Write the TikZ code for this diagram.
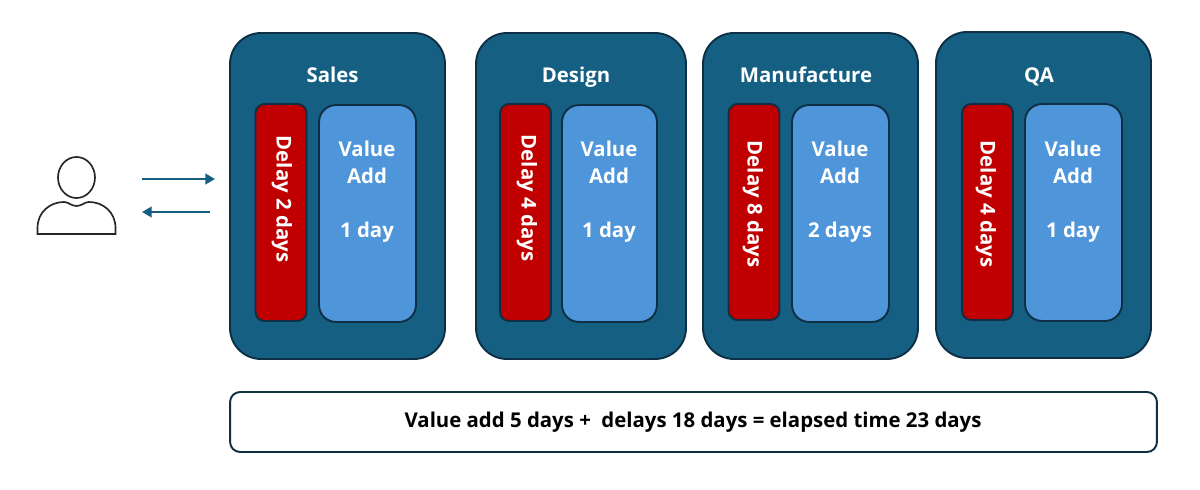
\documentclass[tikz,border=0pt]{standalone}
\usepackage{fontspec}
\setmainfont{Open Sans}
\usetikzlibrary{arrows.meta}
\definecolor{stageblue}{HTML}{156082}
\definecolor{edgeblue}{HTML}{0F2F45}
\definecolor{delayred}{HTML}{C00000}
\definecolor{valueblue}{HTML}{4E95D9}
\tikzset{
        stagebox/.style = {draw=edgeblue, fill=stageblue, line width=1.1pt, rounded corners=0.62cm, inner sep=0pt},
        delaybox/.style = {draw=edgeblue, fill=delayred, line width=1.1pt, rounded corners=0.18cm, inner sep=0pt, minimum width=1.02cm},
        valuebox/.style = {draw=edgeblue, fill=valueblue, line width=1.1pt, rounded corners=0.34cm, inner sep=0pt},
        totalbox/.style = {draw=edgeblue, fill=white, line width=1.1pt, rounded corners=0.2cm, inner sep=0pt},
        whitetext/.style = {text=white, font=\fontsize{11.6}{15.3}\selectfont\bfseries, align=center, inner sep=0pt},
        titletext/.style = {whitetext, anchor=base},
        flowline/.style = {stageblue, line width=1.3pt, -{Triangle[length=5.5pt,width=6pt]}},
        personline/.style = {black!85, line width=0.95pt}
}
\begin{document}
\begin{tikzpicture}[x = 0.02cm, y = -0.02cm]
                \useasboundingbox (0,0) rectangle (1200,490);

                \node[stagebox, minimum width=4.3cm, minimum height=6.52cm] (sales) at (337.5,196) {};
                \node[stagebox, minimum width=4.2cm, minimum height=6.52cm] (design) at (581,196) {};
                \node[stagebox, minimum width=4.3cm, minimum height=6.52cm] (manufacture) at (810.5,196) {};
                \node[stagebox, minimum width=4.3cm, minimum height=6.52cm] (qa) at (1043.5,195) {};

                \node[titletext] (salestitle) at (332.5,82) {Sales};
                \node[titletext] (designtitle) at (576,82) {Design};
                \node[titletext] (manufacturetitle) at (806,82) {Manufacture};
                \node[titletext] (qatitle) at (1039,82) {QA};

                \node[delaybox, minimum height=4.34cm] (salesdelay) at (281,212.5) {};
                \node[delaybox, minimum height=4.34cm] (designdelay) at (525.5,212.5) {};
                \node[delaybox, minimum height=4.32cm] (manufacturedelay) at (754,212) {};
                \node[delaybox, minimum height=4.32cm] (qadelay) at (987.5,212) {};

                \node[whitetext, rotate=-90] (salesdelaytext) at (282,199) {Delay 2 days};
                \node[whitetext, rotate=-90] (designdelaytext) at (527,198) {Delay 4 days};
                \node[whitetext, rotate=-90] (manufacturedelaytext) at (753,204) {Delay 8 days};
                \node[whitetext, rotate=-90] (qadelaytext) at (986,204) {Delay 4 days};

                \node[valuebox, minimum width=1.94cm, minimum height=4.34cm] (salesvalue) at (367.5,213.5) {};
                \node[valuebox, minimum width=1.9cm, minimum height=4.34cm] (designvalue) at (609.5,213.5) {};
                \node[valuebox, minimum width=1.94cm, minimum height=4.34cm] (manufacturevalue) at (840.5,213.5) {};
                \node[valuebox, minimum width=1.94cm, minimum height=4.34cm] (qavalue) at (1073.5,212.5) {};

                \node[whitetext] (salesvaluetext) at (367,192) {Value\\Add\\[15.7pt]1 day};
                \node[whitetext] (designvaluetext) at (609,192) {Value\\Add\\[15.7pt]1 day};
                \node[whitetext] (manufacturevaluetext) at (840,192) {Value\\Add\\[15.7pt]2 days};
                \node[whitetext] (qavaluetext) at (1073,192) {Value\\Add\\[15.7pt]1 day};

                \node[totalbox, minimum width=18.54cm, minimum height=1.2cm] (total) at (693.5,422) {};
                \node[titletext, text=black] (totaltext) at (693,427) {Value add 5 days +\ \ delays 18 days = elapsed time 23 days};

                \draw[personline] (76.5,177.5) ellipse (18.5 and 20.5);
                \draw[personline] (37.5,234) -- (37.5,228) .. controls (37.5,212) and (50,202) .. (64,202)
                        .. controls (69,202) and (71,206) .. (76.5,206) .. controls (82,206) and (84,202) .. (89,202)
                        .. controls (103,202) and (115.5,212) .. (115.5,228) -- (115.5,234) -- cycle;

                \coordinate (outstart) at (142,179);
                \coordinate (outend) at (215,179);
                \coordinate (backstart) at (210,212);
                \coordinate (backend) at (142,212);
                \draw[flowline] (outstart) -- (outend);
                \draw[flowline] (backstart) -- (backend);

            \end{tikzpicture}
\end{document}
